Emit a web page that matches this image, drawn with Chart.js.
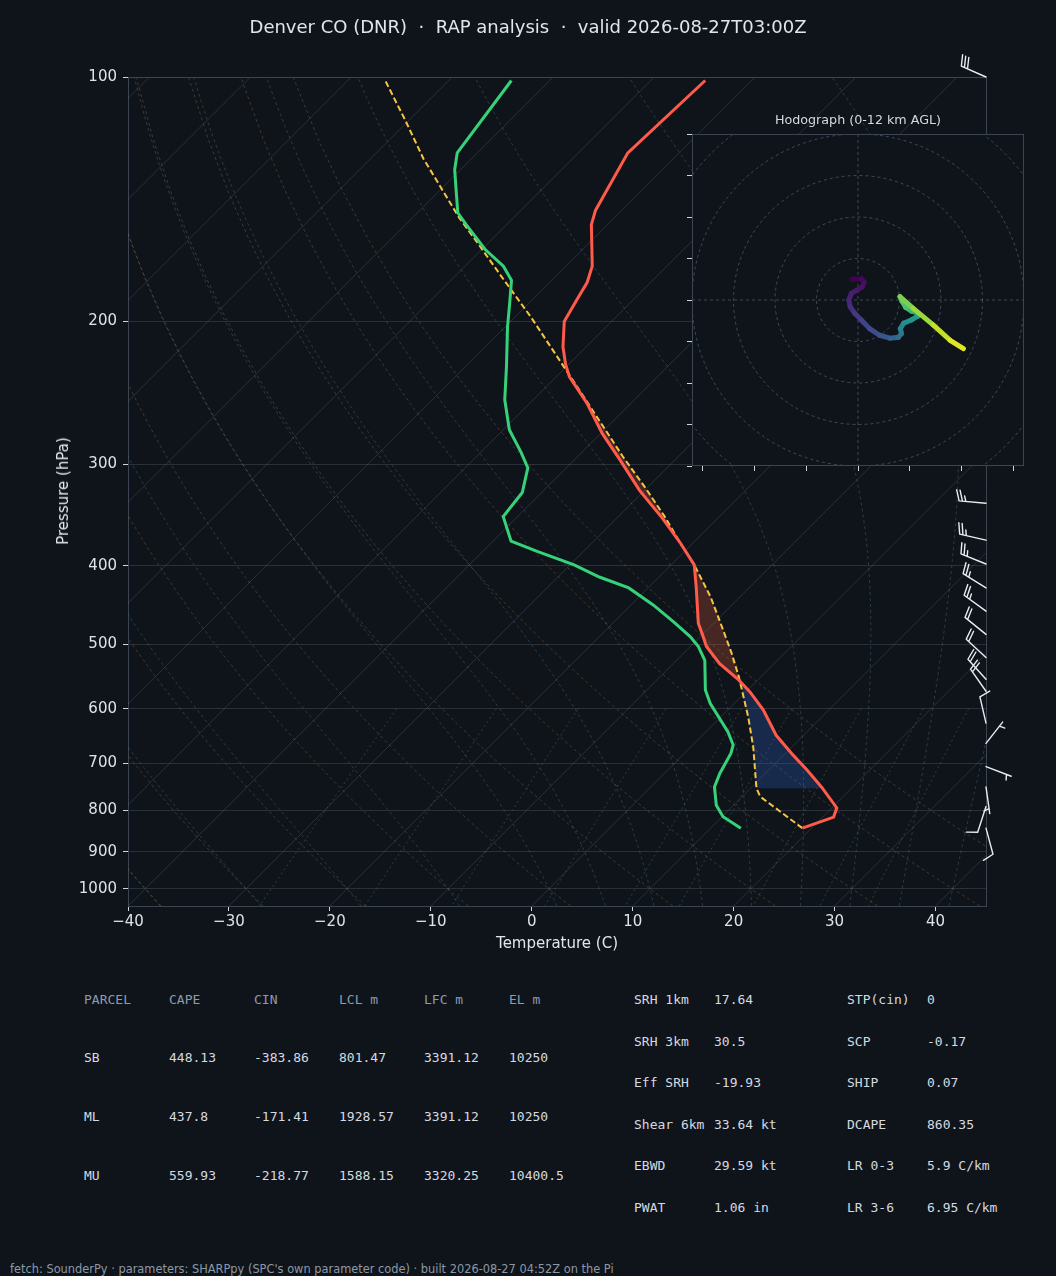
<!DOCTYPE html>
<html>
<head>
<meta charset="utf-8">
<script src="https://cdn.jsdelivr.net/npm/chart.js@4.4.1/dist/chart.umd.min.js"></script>
<style>
html, body { margin: 0; padding: 0; background: #0f141b; }
body { width: 1056px; height: 1276px; position: relative; overflow: hidden; font-family: "DejaVu Sans", sans-serif; }
canvas { position: absolute; }
#main { left: 0; top: 0; }
#hodo { left: 660px; top: 100px; }
.t { position: absolute; white-space: pre; color: #e2e6ea; line-height: 20px; }
.mono { position: absolute; white-space: pre; font-family: "DejaVu Sans Mono", monospace; font-size: 13px; line-height: 16px; color: #d5dae0; }
.head { color: #8c9bb0; }
</style>
</head>
<body>
<canvas id="main" width="1056" height="970"></canvas>
<canvas id="hodo" width="380" height="380"></canvas>

<div class="t" style="left:0;width:1056px;top:17px;text-align:center;font-size:18px;">Denver CO (DNR)  ·  RAP analysis  ·  valid 2026-08-27T03:00Z</div>
<div class="t" style="left:63px;top:491px;font-size:15px;transform:translate(-50%,-50%) rotate(-90deg);">Pressure (hPa)</div>
<div class="t" style="left:557px;top:943px;font-size:15px;transform:translate(-50%,-50%);">Temperature (C)</div>
<div class="t" style="left:858px;top:120px;font-size:12.7px;color:#d4d9df;transform:translate(-50%,-50%);">Hodograph (0-12 km AGL)</div>
<div class="t" style="left:10px;top:1259px;font-size:11.4px;color:#8d98a5;">fetch: SounderPy · parameters: SHARPpy (SPC's own parameter code) · built 2026-08-27 04:52Z on the Pi</div>
<div id="tables"></div>

<script>
// axes
const tempTicks = [-40, -30, -20, -10, 0, 10, 20, 30, 40];
const presTicks = [100, 200, 300, 400, 500, 600, 700, 800, 900, 1000];
const P_TOP = 100, P_BOT = 1050, T_MIN = -40, T_MAX = 45;
const SKEW = 82.13; // 45 deg skew in pixels: plot height expressed in degC

// profiles (hPa, degC)
const tempP = [842, 816, 795, 749, 714, 684, 647, 602, 572, 553, 528, 503, 485, 471, 425, 399, 374, 350, 323, 296, 275, 252, 234, 226, 215, 200, 188, 179, 171, 152, 146, 124, 101];
const tempT = [19.1, 21.1, 20.5, 16.9, 13.8, 10.9, 7.3, 3.5, 0.4, -1.9, -5.4, -8.4, -10.1, -11.5, -15.3, -17.7, -21.4, -25.4, -30.5, -35.5, -39.8, -44.4, -48.7, -50.3, -52.3, -54.7, -55.6, -56.3, -57.4, -61.6, -62.6, -65.1, -64.6];
const dewP = [842, 815, 789, 749, 721, 681, 665, 641, 591, 569, 523, 503, 489, 469, 447, 426, 413, 399, 384, 373, 348, 325, 303, 290, 272, 250, 227, 203, 190, 178, 171, 163, 152, 147, 139, 130, 124, 101];
const dewT = [13.0, 10.1, 8.3, 6.3, 5.5, 4.6, 4.0, 2.2, -2.4, -4.2, -7.2, -9.2, -11.0, -14.1, -17.8, -21.9, -25.9, -29.6, -34.6, -38.2, -41.4, -41.9, -43.8, -46.0, -49.4, -52.8, -56.0, -59.8, -61.9, -64.0, -66.2, -69.7, -74.0, -76.0, -78.1, -80.6, -82.0, -83.8];
const parcelP = [842, 770, 752, 669, 614, 548, 512, 467, 437, 399, 374, 348, 320, 294, 271, 249, 230, 198, 176, 160, 149, 138, 126, 113, 101];
const parcelT = [19.1, 11.8, 10.6, 6.2, 2.7, -2.2, -5.3, -9.7, -12.9, -17.7, -21.4, -25.4, -30.3, -35.4, -40.1, -45.0, -49.6, -58.3, -65.4, -71.1, -75.4, -79.7, -84.8, -90.4, -96.3];
const LCL_P = 752;

// wind barbs (hPa, deg from, kt)
const barbP = [100, 300, 335, 372, 398, 426, 455, 486, 519, 552, 571, 625, 662, 707, 749, 792, 842];
const barbDir = [294, 276, 275, 283, 292, 302, 306, 309, 313, 318, 325, 347, 38, 111, 172, 198, 165];
const barbSpd = [30, 25, 25, 25, 25, 25, 25, 20, 20, 20, 20, 10, 5, 5, 5, 10, 10];

// hodograph
const hodoU = [-1.4, 0.8, 1.5, 1.0, -0.4, -1.6, -2.2, -1.9, -0.8, 0.8, 2.8, 5.2, 7.7, 9.7, 10.5, 10.2, 11.0, 12.9, 14.4, 14.3, 12.9, 11.5, 10.7, 10.1, 13.3, 18.1, 22.2, 25.4];
const hodoV = [5.0, 5.1, 4.3, 3.1, 2.3, 1.6, 0.0, -1.6, -3.2, -4.8, -6.9, -8.5, -9.2, -9.0, -8.1, -6.9, -5.6, -4.8, -3.9, -3.1, -2.7, -1.8, -0.4, 0.8, -2.0, -6.0, -9.7, -11.7];
const hodoZ = [0, 0.25, 0.45, 0.65, 0.85, 1.05, 1.35, 1.65, 2.0, 2.35, 2.75, 3.2, 3.7, 4.3, 4.9, 5.4, 5.9, 6.4, 6.9, 7.4, 8.0, 8.6, 9.1, 9.6, 10.2, 10.9, 11.5, 12.0];
const hodoXTicks = [-37.5, -25, -12.5, 0, 12.5, 25, 37.5];
const hodoYTicks = [-40, -30, -20, -10, 0, 10, 20, 30, 40];
const hodoRings = [10, 20, 30, 40, 50, 60];

// tables
const parcelHead = ['PARCEL', 'CAPE', 'CIN', 'LCL m', 'LFC m', 'EL m'];
const parcelRows = [
    ['SB', '448.13', '-383.86', '801.47', '3391.12', '10250'],
    ['ML', '437.8', '-171.41', '1928.57', '3391.12', '10250'],
    ['MU', '559.93', '-218.77', '1588.15', '3320.25', '10400.5']
];
const indexRows = [
    ['SRH 1km', '17.64', 'STP(cin)', '0'],
    ['SRH 3km', '30.5', 'SCP', '-0.17'],
    ['Eff SRH', '-19.93', 'SHIP', '0.07'],
    ['Shear 6km', '33.64 kt', 'DCAPE', '860.35'],
    ['EBWD', '29.59 kt', 'LR 0-3', '5.9 C/km'],
    ['PWAT', '1.06 in', 'LR 3-6', '6.95 C/km']
];

const BG = '#0f141b';
const SPINE = '#3b4552';
const TXT = '#dfe3e8';

function skewX(t, p) {
    return t + SKEW * Math.log(P_BOT / p) / Math.log(P_BOT / P_TOP);
}
function profile(ps, ts) {
    return ps.map((p, i) => ({ x: skewX(ts[i], p), y: p }));
}
function interpT(ps, ts, p) {
    for (let i = 0; i < ps.length - 1; i++) {
        if (p <= ps[i] && p >= ps[i + 1]) {
            const f = Math.log(ps[i] / p) / Math.log(ps[i] / ps[i + 1]);
            return ts[i] + f * (ts[i + 1] - ts[i]);
        }
    }
    return NaN;
}

// CAPE / CIN polygons from parcel vs environment
const grid = [];
for (let p = LCL_P; p >= 150; p *= 0.996) grid.push(p);
const diff = grid.map(p => interpT(parcelP, parcelT, p) - interpT(tempP, tempT, p));
const iLfc = diff.findIndex(d => d > 0);
let iEl = iLfc;
diff.forEach((d, i) => { if (d > 0) iEl = i; });

function polygon(ps) {
    const left = ps.map(p => ({ x: skewX(interpT(parcelP, parcelT, p), p), y: p }));
    const right = ps.slice().reverse().map(p => ({ x: skewX(interpT(tempP, tempT, p), p), y: p }));
    return left.concat(right);
}
const cinPoly = polygon(grid.slice(0, iLfc + 1));
const capePoly = polygon(grid.slice(Math.max(0, iLfc - 1), iEl + 2));

// reference lines
const RD = 287.04749, CPD = 1004.6662, LV = 2.50084e6, EPS = 0.6219569;
function dryAdiabat(t0) {
    const pts = [];
    for (let i = 0; i < 50; i++) {
        const p = P_BOT + (P_TOP - P_BOT) * i / 49;
        const t = (t0 + 273.15) * Math.pow(p / 1000, RD / CPD) - 273.15;
        pts.push({ x: skewX(t, p), y: p });
    }
    return pts;
}
function moistAdiabat(t0) {
    const f = (p, t) => {
        const es = 6.112 * Math.exp(17.67 * (t - 273.15) / (t - 29.65));
        const rs = EPS * es / (p - es);
        return (RD * t + LV * rs) / (CPD + LV * LV * rs * EPS / (RD * t * t)) / p;
    };
    const step = (p, t, dp) => {
        const k1 = f(p, t), k2 = f(p + dp / 2, t + dp / 2 * k1), k3 = f(p + dp / 2, t + dp / 2 * k2), k4 = f(p + dp, t + dp * k3);
        return t + dp / 6 * (k1 + 2 * k2 + 2 * k3 + k4);
    };
    const low = [];
    let p = 1000, t = t0 + 273.15;
    while (p < P_BOT) { t = step(p, t, 5); p += 5; low.push({ x: skewX(t - 273.15, p), y: p }); }
    const out = low.reverse();
    out.push({ x: skewX(t0, 1000), y: 1000 });
    p = 1000; t = t0 + 273.15;
    while (p > P_TOP) { t = step(p, t, -5); p -= 5; out.push({ x: skewX(t - 273.15, p), y: p }); }
    return out;
}
function mixingLine(w) {
    const pts = [];
    for (let i = 0; i < 10; i++) {
        const p = 600 + (P_BOT - 600) * i / 9;
        const e = p * w / (EPS + w);
        const l = Math.log(e / 6.112);
        pts.push({ x: skewX(243.5 * l / (17.67 - l), p), y: p });
    }
    return pts;
}

const bgSets = [];
function bgLine(data, color, dash) {
    bgSets.push({ data, borderColor: color, borderWidth: 1, borderDash: dash, pointRadius: 0, fill: false, order: 20 });
}
for (let t = -130; t <= 40; t += 10) bgLine([{ x: t, y: P_BOT }, { x: t + SKEW, y: P_TOP }], 'rgba(150,160,175,0.2)', []);
for (let t = -40; t <= 50; t += 10) bgLine(dryAdiabat(t), 'rgba(200,135,75,0.3)', [3, 3]);
[-40, -30, -20, -10, 0, 5, 10, 15, 20, 25, 30, 35, 40, 45, 50].forEach(t => bgLine(moistAdiabat(t), 'rgba(95,140,165,0.33)', [3, 3]));
[0.0004, 0.001, 0.002, 0.004, 0.007, 0.01, 0.016, 0.024, 0.032].forEach(w => bgLine(mixingLine(w), 'rgba(90,150,135,0.35)', [2, 3]));

function drawBarb(ctx, x, y, dir, spd) {
    const L = 27, fh = 0.4 * L, fw = 0.25 * L, sp = 0.125 * L;
    const r = dir * Math.PI / 180;
    const s = [Math.sin(r), -Math.cos(r)];
    const f = [Math.cos(r), Math.sin(r)];
    const P = (a, b) => [x + a * s[0] + b * f[0], y + a * s[1] + b * f[1]];
    const seg = (a, b) => { ctx.moveTo(a[0], a[1]); ctx.lineTo(b[0], b[1]); };
    let v = Math.round(spd / 5) * 5;
    const full = Math.floor(v / 10);
    const half = v % 10 >= 5;
    ctx.beginPath();
    seg(P(0, 0), P(L, 0));
    let off = L;
    for (let i = 0; i < full; i++) { seg(P(off, 0), P(off + fw / 2, fh)); off -= sp; }
    if (half) {
        if (off === L) off -= 1.5 * sp;
        seg(P(off, 0), P(off + fw / 4, fh / 2));
    }
    ctx.stroke();
}

const skewPlugin = {
    id: 'skewExtras',
    afterDatasetsDraw(chart) {
        const { ctx, chartArea: a } = chart;
        ctx.save();
        ctx.strokeStyle = SPINE;
        ctx.lineWidth = 1;
        ctx.beginPath();
        ctx.moveTo(a.left, a.top + 0.5); ctx.lineTo(a.right + 0.5, a.top + 0.5); ctx.lineTo(a.right + 0.5, a.bottom);
        ctx.stroke();
        ctx.restore();
    },
    afterDraw(chart) {
        const { ctx, chartArea: a, scales } = chart;
        ctx.save();
        ctx.strokeStyle = '#e8edf2';
        ctx.lineWidth = 1.4;
        ctx.lineCap = 'round';
        barbP.forEach((p, i) => drawBarb(ctx, a.right, scales.y.getPixelForValue(p), barbDir[i], barbSpd[i]));
        ctx.restore();
    }
};

new Chart(document.getElementById('main'), {
    type: 'line',
    data: {
        datasets: [
            { data: profile(tempP, tempT), borderColor: '#ff5a4a', borderWidth: 3, pointRadius: 0, fill: false, order: 0 },
            { data: profile(dewP, dewT), borderColor: '#36d27a', borderWidth: 3, pointRadius: 0, fill: false, order: 1 },
            { data: profile(parcelP, parcelT), borderColor: '#f5c542', borderWidth: 2, borderDash: [6, 3], pointRadius: 0, fill: false, order: 2 },
            { data: capePoly, borderColor: 'transparent', borderWidth: 0, backgroundColor: 'rgba(230,95,60,0.26)', fill: 'shape', pointRadius: 0, order: 5 },
            { data: cinPoly, borderColor: 'transparent', borderWidth: 0, backgroundColor: 'rgba(50,100,200,0.28)', fill: 'shape', pointRadius: 0, order: 6 },
            ...bgSets
        ]
    },
    options: {
        responsive: false,
        animation: false,
        devicePixelRatio: 1,
        events: [],
        layout: { padding: { top: 77, right: 70, bottom: 0, left: 0 } },
        plugins: { legend: { display: false }, tooltip: { enabled: false } },
        scales: {
            x: {
                type: 'linear', min: T_MIN, max: T_MAX,
                afterBuildTicks: s => { s.ticks = tempTicks.map(v => ({ value: v })); },
                afterFit: s => { s.height = 64; },
                ticks: { color: TXT, font: { family: 'DejaVu Sans', size: 15 }, padding: 2, maxRotation: 0, autoSkip: false,
                    callback: v => String(v).replace('-', '\u2212') },
                grid: { drawOnChartArea: false, drawTicks: true, tickLength: 5, tickColor: '#cfd5dc' },
                border: { color: SPINE }
            },
            y: {
                type: 'logarithmic', min: P_TOP, max: P_BOT, reverse: true,
                afterBuildTicks: s => { s.ticks = presTicks.map(v => ({ value: v })); },
                afterFit: s => { s.width = 128; },
                ticks: { color: TXT, font: { family: 'DejaVu Sans', size: 15 }, padding: 6, autoSkip: false, callback: v => String(v) },
                grid: { color: 'rgba(150,160,175,0.2)', drawTicks: true, tickLength: 5, tickColor: '#cfd5dc' },
                border: { color: SPINE }
            }
        }
    },
    plugins: [skewPlugin]
});

// hodograph inset
const VIR = ['#440154', '#482475', '#414487', '#355f8d', '#2a788e', '#21918c', '#22a884', '#44bf70', '#7ad151', '#bddf26', '#fde725'];
function viridis(t) {
    t = Math.max(0, Math.min(1, t));
    const n = VIR.length - 1;
    const i = Math.min(n - 1, Math.floor(t * n));
    const f = t * n - i;
    const a = VIR[i], b = VIR[i + 1];
    const c = k => Math.round(parseInt(a.substr(k, 2), 16) * (1 - f) + parseInt(b.substr(k, 2), 16) * f);
    return `rgb(${c(1)},${c(3)},${c(5)})`;
}

const hodoPlugin = {
    id: 'hodoGrid',
    beforeDraw(chart) {
        const { ctx, chartArea: a } = chart;
        ctx.save();
        ctx.fillStyle = BG;
        ctx.fillRect(a.left, a.top, a.right - a.left, a.bottom - a.top);
        ctx.restore();
    },
    beforeDatasetsDraw(chart) {
        const { ctx, chartArea: a, scales } = chart;
        const cx = scales.x.getPixelForValue(0), cy = scales.y.getPixelForValue(0);
        ctx.save();
        ctx.beginPath();
        ctx.rect(a.left, a.top, a.right - a.left, a.bottom - a.top);
        ctx.clip();
        ctx.strokeStyle = 'rgba(120,135,155,0.45)';
        ctx.lineWidth = 1;
        ctx.setLineDash([3, 3]);
        hodoRings.forEach(r => {
            const rad = scales.x.getPixelForValue(r) - cx;
            ctx.beginPath();
            ctx.arc(cx, cy, rad, 0, Math.PI * 2);
            ctx.stroke();
        });
        ctx.beginPath();
        ctx.moveTo(a.left, cy); ctx.lineTo(a.right, cy);
        ctx.moveTo(cx, a.top); ctx.lineTo(cx, a.bottom);
        ctx.stroke();
        ctx.restore();
    },
    afterDraw(chart) {
        const { ctx, chartArea: a } = chart;
        ctx.save();
        ctx.strokeStyle = SPINE;
        ctx.lineWidth = 1;
        ctx.strokeRect(a.left + 0.5, a.top + 0.5, a.right - a.left - 1, a.bottom - a.top - 1);
        ctx.restore();
    }
};

new Chart(document.getElementById('hodo'), {
    type: 'line',
    data: {
        datasets: [{
            data: hodoU.map((u, i) => ({ x: u, y: hodoV[i] })),
            borderWidth: 5,
            borderColor: viridis(0),
            segment: { borderColor: c => viridis(hodoZ[c.p0DataIndex] / 12) },
            borderCapStyle: 'round',
            borderJoinStyle: 'round',
            pointRadius: 0,
            fill: false
        }]
    },
    options: {
        responsive: false,
        animation: false,
        devicePixelRatio: 1,
        events: [],
        layout: { padding: { top: 34, right: 16, bottom: 8, left: 26 } },
        plugins: { legend: { display: false }, tooltip: { enabled: false } },
        scales: {
            x: {
                type: 'linear', min: -40, max: 40,
                afterBuildTicks: s => { s.ticks = hodoXTicks.map(v => ({ value: v })); },
                afterFit: s => { s.height = 6; },
                ticks: { display: false },
                grid: { drawOnChartArea: false, drawTicks: true, tickLength: 5, tickColor: '#cfd5dc' },
                border: { display: false }
            },
            y: {
                type: 'linear', min: -40, max: 40,
                afterBuildTicks: s => { s.ticks = hodoYTicks.map(v => ({ value: v })); },
                afterFit: s => { s.width = 6; },
                ticks: { display: false },
                grid: { drawOnChartArea: false, drawTicks: true, tickLength: 5, tickColor: '#cfd5dc' },
                border: { display: false }
            }
        }
    },
    plugins: [hodoPlugin]
});

// tables
const tables = document.getElementById('tables');
function cell(text, x, y, head) {
    const d = document.createElement('div');
    d.className = 'mono' + (head ? ' head' : '');
    d.style.left = x + 'px';
    d.style.top = (y - 8) + 'px';
    d.textContent = text;
    tables.appendChild(d);
}
parcelHead.forEach((h, j) => cell(h, 84 + 85 * j, 1000, true));
parcelRows.forEach((row, i) => row.forEach((v, j) => cell(v, 84 + 85 * j, 1058 + 59 * i, false)));
indexRows.forEach((row, i) => {
    const y = 1000 + 41.5 * i;
    cell(row[0], 634, y); cell(row[1], 714, y); cell(row[2], 847, y); cell(row[3], 927, y);
});
</script>
</body>
</html>
